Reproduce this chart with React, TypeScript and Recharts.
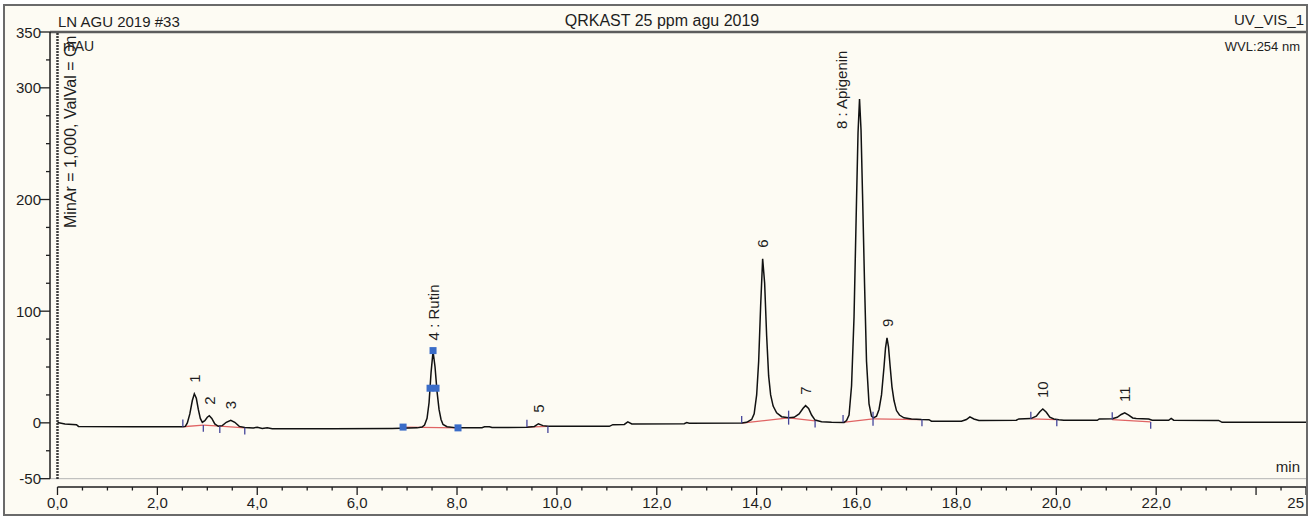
import React from 'react';
import { ComposedChart, Line, Scatter, XAxis, YAxis, ReferenceLine } from 'recharts';

// Chromatogram trace: [retention time (min), signal (mAU)]
const trace: [number, number][] = [
  [0, 0.3], [0.15, -1], [0.38, -1.6], [0.42, -3.2], [1.5, -3.4], [2.5, -3.6],
  [2.56, -3.2], [2.6, 0], [2.65, 8], [2.7, 20], [2.74, 26], [2.78, 22], [2.82, 12],
  [2.86, 4], [2.9, 0.5], [2.95, 2], [3.0, 5], [3.04, 6.4], [3.09, 4], [3.15, -1],
  [3.22, -3.1], [3.3, -2.5], [3.38, 0.5], [3.47, 2.3], [3.55, 0.5], [3.64, -3.2],
  [3.75, -4.2], [3.92, -4.6], [4.0, -4.0], [4.1, -5], [4.2, -4.5], [4.3, -5.2],
  [5.5, -5.2], [6.7, -5], [7.2, -4.5], [7.3, -3.8], [7.35, -2], [7.4, 4], [7.44, 18],
  [7.48, 45], [7.52, 64], [7.56, 50], [7.6, 28], [7.64, 12], [7.68, 3], [7.72, -1.5],
  [7.8, -3.5], [8.0, -4.5], [8.5, -4.3], [8.55, -3.5], [8.65, -3.5], [8.7, -4.2],
  [9.4, -4], [9.55, -3.2], [9.63, -0.8], [9.72, -2.5], [9.82, -3.1], [11.05, -3.1],
  [11.12, -1.6], [11.35, -1.4], [11.42, 0.8], [11.5, -1], [12.55, -0.8], [12.6, 0.2],
  [12.65, -0.3], [13.7, -0.1], [13.8, 0.5], [13.9, 3], [13.95, 8], [14.0, 25],
  [14.04, 55], [14.08, 105], [14.12, 147], [14.16, 125], [14.2, 78], [14.24, 42],
  [14.28, 25], [14.33, 15], [14.4, 9], [14.5, 5.5], [14.64, 4.5], [14.75, 5],
  [14.85, 8], [14.93, 13], [14.98, 15.4], [15.04, 13], [15.1, 7], [15.17, 2.5],
  [15.3, 1], [15.5, 0.6], [15.75, 0.4], [15.8, 2], [15.85, 7], [15.9, 33], [15.95, 95],
  [16.0, 200], [16.03, 260], [16.06, 290], [16.09, 262], [16.12, 205], [16.16, 125],
  [16.2, 55], [16.25, 17], [16.3, 6], [16.34, 4.5], [16.4, 6], [16.45, 12], [16.5, 25],
  [16.55, 50], [16.58, 67], [16.61, 76], [16.64, 68], [16.67, 52], [16.71, 32],
  [16.75, 20], [16.8, 11], [16.86, 7], [16.95, 4.5], [17.1, 3.5], [17.3, 3],
  [17.45, 2.8], [17.5, 1.5], [18.1, 1.5], [18.2, 3], [18.27, 5.3], [18.35, 3.5],
  [18.45, 2.2], [19.2, 2.3], [19.25, 3.5], [19.49, 3.8], [19.6, 6], [19.67, 10],
  [19.73, 12.4], [19.8, 9.5], [19.87, 5], [19.95, 3.5], [20.05, 2.8], [20.15, 2.3],
  [20.82, 2.3], [20.86, 3.5], [21.12, 3.6], [21.22, 5], [21.3, 7.5], [21.37, 8.9],
  [21.45, 7], [21.53, 4.4], [21.6, 3.8], [21.85, 3.5], [21.92, 2.3], [22.25, 2.3],
  [22.3, 4], [22.35, 2.4], [23.25, 2.2], [23.32, 0.5], [25.02, 0.5],
];

// Identified peaks
const peakNames = ['1', '2', '3', '4 : Rutin', '5', '6', '7', '8 : Apigenin', '9', '10', '11'];
const peakTimes = [2.74, 3.04, 3.47, 7.52, 9.63, 14.12, 14.98, 16.06, 16.61, 19.73, 21.37];
const peakHeights = [26, 6.4, 2.3, 64, -0.8, 147, 15.4, 290, 76, 12.4, 8.9];

// Integration baselines, one segment per pair of points
const baselines: [number, number][][] = [
  [[2.51, -3.5], [2.92, -2.0]], [[2.92, -2.0], [3.25, -3.0]], [[3.25, -3.0], [3.75, -4.5]],
  [[6.92, -3.8], [8.02, -4.5]],
  [[9.4, -3.8], [9.82, -3.1]],
  [[13.7, -0.3], [14.64, 4.4]], [[14.64, 4.4], [15.17, 1.8]],
  [[15.73, 0.5], [16.33, 3.5]], [[16.33, 3.5], [17.31, 2.9]],
  [[19.49, 3.5], [20.01, 2.9]],
  [[21.12, 2.9], [21.89, 0.8]],
];

// Peak start / end delimiters: time, signal, direction (1 up, -1 down, 0 both)
const delimiters: [number, number, number][] = [
  [2.51, -3.5, 1], [2.92, -2.0, -1], [3.25, -3.0, -1], [3.75, -4.5, -1],
  [9.4, -3.8, 1], [9.82, -3.1, -1],
  [13.7, -0.3, 1], [14.64, 4.4, 0], [15.17, 1.8, -1],
  [15.73, 0.5, 1], [16.33, 3.5, 0], [17.31, 2.9, -1],
  [19.49, 3.5, 1], [20.01, 2.9, -1],
  [21.12, 2.9, 1], [21.89, 0.8, -1],
];

// Reference peak markers on Rutin (start, half height left/right, apex, end)
const rutinMarkTimes = [6.92, 7.46, 7.58, 7.52, 8.02];
const rutinMarkValues = [-3.8, 31, 31, 64.7, -4.5];

const X_TICKS = Array.from({ length: 51 }, (_, i) => i * 0.5);
const X_LABELS = [0, 2, 4, 6, 8, 10, 12, 14, 16, 18, 20, 22, 25];
const Y_TICKS = [-50, -25, 0, 25, 50, 75, 100, 125, 150, 175, 200, 225, 250, 275, 300, 325, 350];
const Y_LABELS = [350, 300, 200, 100, 0, -50];

const X_MIN = -0.15;
const X_MAX = 25.02;
const Y_MIN = -57.45;
const Y_MAX = 350;

const AXIS_X = 50;
const AXIS_Y = 487;
const FONT = '"Liberation Sans", Arial, sans-serif';
const INK = '#1e1e1e';
const CREAM = '#fdfbf3';

const traceData = trace.map(([t, v]) => ({ t, v }));
const peakData = peakNames.map((label, i) => ({ t: peakTimes[i], v: peakHeights[i], label }));
const rutinData = rutinMarkTimes.map((t, i) => ({ t, v: rutinMarkValues[i] }));

// label nudges in px for crowded peaks
const labelShift: Record<string, [number, number]> = { '8 : Apigenin': [-18, 41] };

const YTick = ({ y, payload }: any) => {
  const v = payload.value;
  const major = Y_LABELS.includes(v);
  return (
    <g>
      <line x1={AXIS_X - (major ? 10 : 4)} x2={AXIS_X} y1={y} y2={y} stroke={INK} strokeWidth={1.3} />
      {major && (
        <text x={41} y={y} textAnchor="end" dominantBaseline="central" fontSize={15} fontFamily={FONT} fill={INK}>
          {v}
        </text>
      )}
    </g>
  );
};

const XTick = ({ x, payload }: any) => {
  const v = payload.value;
  const major = v % 2 === 0 || v === 25;
  // the last label sits against the frame, so it is right-aligned and short
  const last = v === 25;
  return (
    <g>
      <line x1={x} x2={x} y1={AXIS_Y} y2={AXIS_Y + (major ? 8 : 3.5)} stroke={INK} strokeWidth={1.3} />
      {X_LABELS.includes(v) && (
        <text
          x={last ? 1304 : x}
          y={502}
          textAnchor={last ? 'end' : 'middle'}
          dominantBaseline="central"
          fontSize={15}
          fontFamily={FONT}
          fill={INK}
        >
          {last ? String(v) : v.toFixed(1).replace('.', ',')}
        </text>
      )}
    </g>
  );
};

const PeakLabel = ({ cx, cy, payload }: any) => {
  const [dx, dy] = labelShift[payload.label] || [0, 0];
  return (
    <text
      transform={`translate(${cx + dx},${cy - 11 + dy}) rotate(-90)`}
      dominantBaseline="central"
      fontSize={15}
      fontFamily={FONT}
      fill={INK}
    >
      {payload.label}
    </text>
  );
};

const MarkSquare = ({ cx, cy }: any) => (
  <rect x={cx - 3.5} y={cy - 3.5} width={7} height={7} fill="#3a6cc8" />
);

export default function App() {
  return (
    <div style={{ position: 'fixed', left: 0, top: 0, width: 1313, height: 517, background: '#fff', overflow: 'hidden' }}>
      <div
        style={{
          position: 'absolute', left: 3, top: 4, width: 1305, height: 512, boxSizing: 'border-box',
          border: '2px solid #6a6a6a', background: CREAM, overflow: 'hidden',
        }}
      >
        <div style={{ position: 'absolute', left: -5, top: -6, width: 1313, height: 517 }}>
          <ComposedChart width={1313} height={517} margin={{ top: 32, right: 6, bottom: 0, left: 0 }}>
            <XAxis
              type="number"
              dataKey="t"
              domain={[X_MIN, X_MAX]}
              allowDataOverflow
              ticks={X_TICKS}
              interval={0}
              height={30}
              axisLine={false}
              tickLine={false}
              tick={<XTick />}
            />
            <YAxis
              type="number"
              domain={[Y_MIN, Y_MAX]}
              allowDataOverflow
              ticks={Y_TICKS}
              interval={0}
              width={50}
              axisLine={false}
              tickLine={false}
              tick={<YTick />}
            />

            {/* plot frame: top rule, bottom rule, axes */}
            <ReferenceLine y={Y_MAX} stroke="#5c5c5c" strokeWidth={2.5} ifOverflow="visible" />
            <ReferenceLine y={-50} stroke="#b4b4b4" strokeWidth={1} ifOverflow="visible" />
            <ReferenceLine segment={[{ x: X_MIN, y: -50 }, { x: X_MIN, y: Y_MAX }]} stroke={INK} strokeWidth={1.5} ifOverflow="visible" />
            <ReferenceLine segment={[{ x: 0, y: Y_MIN }, { x: X_MAX, y: Y_MIN }]} stroke={INK} strokeWidth={1.5} ifOverflow="visible" />

            {/* injection marker */}
            <ReferenceLine
              segment={[{ x: 0, y: -50 }, { x: 0, y: Y_MAX }]}
              stroke="#000"
              strokeWidth={2.5}
              strokeDasharray="1.5 1.5"
              ifOverflow="visible"
            />

            {baselines.map(([a, b], i) => (
              <ReferenceLine
                key={`bl-${i}`}
                segment={[{ x: a[0], y: a[1] }, { x: b[0], y: b[1] }]}
                stroke="#e06464"
                strokeWidth={1.3}
                ifOverflow="visible"
              />
            ))}

            <Line
              data={traceData}
              dataKey="v"
              type="linear"
              stroke="#111"
              strokeWidth={1.5}
              dot={false}
              activeDot={false}
              isAnimationActive={false}
            />

            {delimiters.map(([t, v, dir], i) => (
              <ReferenceLine
                key={`dl-${i}`}
                segment={[
                  { x: t, y: dir < 0 ? v : v + 6.5 },
                  { x: t, y: dir > 0 ? v : v - 6 },
                ]}
                stroke="#45459a"
                strokeWidth={1.3}
                ifOverflow="visible"
              />
            ))}

            <Scatter data={rutinData} dataKey="v" shape={<MarkSquare />} isAnimationActive={false} />
            <Scatter data={peakData} dataKey="v" shape={<PeakLabel />} isAnimationActive={false} />
          </ComposedChart>

          <svg
            width={1313}
            height={517}
            style={{ position: 'absolute', left: 0, top: 0, pointerEvents: 'none' }}
            fontFamily={FONT}
            fill={INK}
          >
            <text x={58} y={27} fontSize={15}>LN AGU 2019 #33</text>
            <text x={662} y={26} fontSize={16} textAnchor="middle">QRKAST 25 ppm agu 2019</text>
            <text x={1304} y={25} fontSize={15} textAnchor="end">UV_VIS_1</text>
            <text x={63} y={51} fontSize={14}>mAU</text>
            <text x={1300} y={51} fontSize={13} textAnchor="end">WVL:254 nm</text>
            <text x={1300} y={472} fontSize={15} textAnchor="end">min</text>
            <text transform="translate(70,228) rotate(-90)" fontSize={16} dominantBaseline="central">
              MinAr = 1,000, ValVal = On
            </text>
          </svg>
        </div>
      </div>
    </div>
  );
}
